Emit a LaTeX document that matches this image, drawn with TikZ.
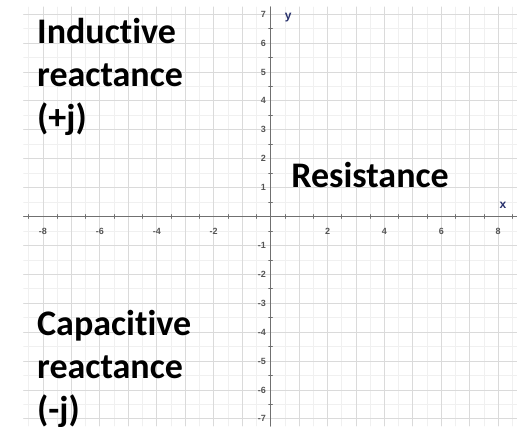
\documentclass[tikz,border=0pt]{standalone}
\usepackage{fontspec}
\setmainfont{Carlito}[Ligatures=NoCommon]
\setsansfont{Liberation Sans}
\usetikzlibrary{positioning}
\definecolor{gridgray}{HTML}{DADADA}
\definecolor{minorgray}{HTML}{F0F0F0}
\definecolor{axisgray}{HTML}{707070}
\definecolor{numgray}{HTML}{555555}
\definecolor{navy}{HTML}{27306B}
\tikzset{
  every picture/.style={line join=round, line cap=round},
  minorline/.style={minorgray, line width=0.6pt},
  gridline/.style={gridgray, line width=0.8pt},
  axisline/.style={axisgray, line width=1pt},
  tickmark/.style={axisgray, line width=0.6pt},
  ticknum/.style={font=\sffamily\bfseries\fontsize{9}{9}\selectfont, text=numgray, inner sep=1pt},
  axisname/.style={font=\sffamily\bfseries\fontsize{12}{12}\selectfont, text=navy, inner sep=0pt},
  bigtext/.style={font=\bfseries\fontsize{36}{43}\selectfont, align=left, inner sep=0pt, anchor=base west},
}

\begin{document}
\begin{tikzpicture}[x=1cm,y=1.0158cm]
\useasboundingbox (-9.51,-7.25) rectangle (8.66,7.49);
% grid
\foreach \i in {-8.5,-7.5,...,8.5}
  \draw[minorline] (\i,-7.25) -- (\i,7.25);
\foreach \i in {-6.5,-5.5,...,6.5}
  \draw[minorline] (-8.68,\i) -- (8.66,\i);
\foreach \i in {-8,...,8}
  \draw[gridline] (\i,-7.25) -- (\i,7.25);
\foreach \i in {-7,...,7}
  \draw[gridline] (-8.68,\i) -- (8.66,\i);
% axes
\draw[axisline] (-8.68,0) -- (8.66,0);
\draw[axisline] (0,-7.25) -- (0,7.25);
\foreach \i in {-8.5,-7.5,...,8.5}
  \draw[tickmark] (\i,-0.07) -- (\i,0.07);
\foreach \i in {-6.5,-5.5,...,6.5}
  \draw[tickmark] (-0.07,\i) -- (0.07,\i);
\foreach \x [count=\k] in {-8,-6,-4,-2,2,4,6,8}
  \node[ticknum] (xn\k) at (\x,-0.5) {\x};
\foreach \y [count=\k] in {-7,...,-1,1,2,...,7}
  \node[ticknum, anchor=east] (yn\k) at (-0.12,\y) {\y};
\node[axisname] (ylab) at (0.62,6.87) {y};
\node[axisname] (xlab) at (8.17,0.40) {x};
% labels (base = last line)
\node[bigtext] (induct) at (-8.21,3.01) {Inductive\\reactance\\(+j)};
\node[bigtext] (resist) at (0.72,0.99) {Resistance};
\node[bigtext] (capac) at (-8.21,-7.11) {Capacitive\\reactance\\(-j)};
\end{tikzpicture}
\end{document}
